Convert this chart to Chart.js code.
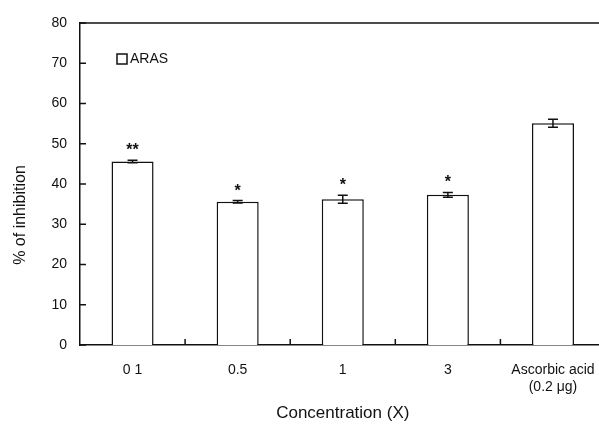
<!DOCTYPE html>
<html>
<head>
<meta charset="utf-8">
<script src="https://cdn.jsdelivr.net/npm/chart.js@4/dist/chart.umd.min.js"></script>
<style>
  html, body { margin: 0; padding: 0; background: #fff; }
  #wrap { width: 599px; height: 434px; overflow: hidden; position: relative; }
  #chart { position: absolute; left: 0; top: 0; }
</style>
</head>
<body>
<div id="wrap"><canvas id="chart" width="612" height="434"></canvas></div>
<script>
// data
const categories = ['0 1', '0.5', '1', '3', ['Ascorbic acid', '(0.2 \u03bcg)']];
const inhibition = [45.6, 35.6, 36.2, 37.3, 55.1];
const errors = [0.3, 0.3, 1.0, 0.6, 1.0];
const signif = ['**', '*', '*', '*', ''];
const yTicks = [0, 10, 20, 30, 40, 50, 60, 70, 80];
const seriesName = 'ARAS';

const FONT = '"Liberation Sans", Arial, sans-serif';
const INK = '#111';

// error bars, asterisks, inside ticks, top frame, legend, y title
const extras = {
    id: 'extras',
    afterDatasetsDraw(chart) {
        const { ctx, chartArea, scales } = chart;
        const x = scales.x, y = scales.y;
        ctx.save();
        ctx.strokeStyle = INK;
        ctx.fillStyle = INK;
        ctx.lineWidth = 1.5;

        // top frame line
        ctx.beginPath();
        ctx.moveTo(chartArea.left, chartArea.top);
        ctx.lineTo(chartArea.right, chartArea.top);
        ctx.stroke();

        // y ticks pointing inward
        yTicks.forEach(v => {
            const py = y.getPixelForValue(v);
            ctx.beginPath();
            ctx.moveTo(chartArea.left, py);
            ctx.lineTo(chartArea.left + 6, py);
            ctx.stroke();
        });

        // x ticks between categories
        for (let i = 1; i < categories.length; i++) {
            const px = (x.getPixelForValue(i - 1) + x.getPixelForValue(i)) / 2;
            ctx.beginPath();
            ctx.moveTo(px, chartArea.bottom);
            ctx.lineTo(px, chartArea.bottom - 6);
            ctx.stroke();
        }

        // error bars + significance marks
        ctx.font = 'bold 16px ' + FONT;
        ctx.textAlign = 'center';
        ctx.textBaseline = 'alphabetic';
        inhibition.forEach((v, i) => {
            const px = x.getPixelForValue(i);
            const hi = y.getPixelForValue(v + errors[i]);
            const lo = y.getPixelForValue(v - errors[i]);
            ctx.beginPath();
            ctx.moveTo(px, hi); ctx.lineTo(px, lo);
            ctx.moveTo(px - 5, hi); ctx.lineTo(px + 5, hi);
            ctx.moveTo(px - 5, lo); ctx.lineTo(px + 5, lo);
            ctx.stroke();
            if (signif[i]) {
                ctx.fillText(signif[i], px, hi - 14 + 9);
            }
        });

        // legend inside plot
        const ds = chart.data.datasets[0];
        ctx.lineWidth = 1.5;
        ctx.fillStyle = '#fff';
        ctx.fillRect(117, 54, 10, 10);
        ctx.strokeRect(117, 54, 10, 10);
        ctx.fillStyle = INK;
        ctx.textAlign = 'left';
        ctx.textBaseline = 'middle';
        ctx.font = '14px ' + FONT;
        ctx.fillText(ds.label, 130, 59);

        // y axis title
        ctx.translate(21, 215);
        ctx.rotate(-Math.PI / 2);
        ctx.textAlign = 'center';
        ctx.font = '16px ' + FONT;
        ctx.fillText('% of inhibition', 0, 0);
        ctx.restore();
    }
};

new Chart(document.getElementById('chart'), {
    type: 'bar',
    data: {
        labels: categories,
        datasets: [{
            label: seriesName,
            data: inhibition,
            backgroundColor: '#fff',
            borderColor: INK,
            borderWidth: 1.5,
            borderSkipped: 'bottom',
            categoryPercentage: 1,
            barPercentage: 0.4
        }]
    },
    options: {
        responsive: false,
        animation: false,
        layout: { padding: { top: 23, right: 4, left: 0, bottom: 0 } },
        plugins: {
            legend: { display: false },
            tooltip: { enabled: false }
        },
        scales: {
            x: {
                grid: { display: false, drawTicks: false },
                border: { display: true, color: INK, width: 1.5 },
                ticks: {
                    color: INK,
                    font: { family: FONT, size: 14 },
                    padding: 17,
                    maxRotation: 0,
                    autoSkip: false
                },
                title: {
                    display: true,
                    text: 'Concentration (X)',
                    color: INK,
                    font: { family: FONT, size: 17 },
                    padding: { top: 0, bottom: 10 }
                },
                afterFit(scale) { scale.height = 89; }
            },
            y: {
                min: 0,
                max: 80,
                afterBuildTicks(scale) { scale.ticks = yTicks.map(v => ({ value: v })); },
                grid: { display: false, drawTicks: false },
                border: { display: true, color: INK, width: 1.5 },
                ticks: {
                    color: INK,
                    font: { family: FONT, size: 14 },
                    padding: 13
                },
                afterFit(scale) { scale.width = 80; }
            }
        }
    },
    plugins: [extras]
});
</script>
</body>
</html>
